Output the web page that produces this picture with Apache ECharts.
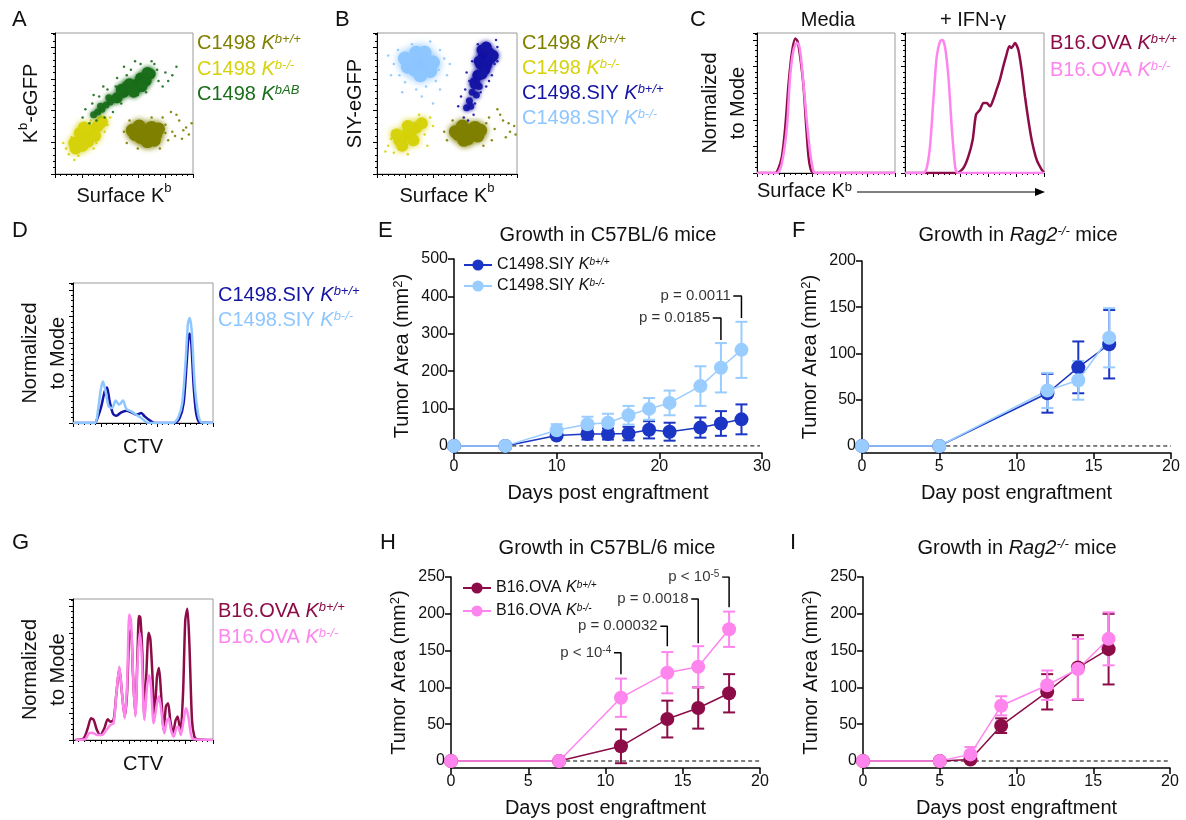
<!DOCTYPE html>
<html>
<head>
<meta charset="utf-8">
<title>Figura</title>
<script src="https://cdn.jsdelivr.net/npm/echarts@6/dist/echarts.min.js"></script>
<style>
  html, body { margin: 0; padding: 0; background: #fff; }
  #grafico { width: 1186px; height: 820px; }
</style>
</head>
<body>
<div id="grafico"></div>
<script>
// ---------- Datos ----------

// A: citometría C1498 (unidades relativas 0-100)
var aOlivaNucleo = [[58,28],[63,31],[68,29],[73,28],[65,25],[70,33],[61,34],[75,32],[67,23],[56,31],[62,26],[72,24]];
var aOlivaDisperso = [[50,30],[80,35],[85,30],[90,38],[95,33],[82,24],[88,42],[78,40],[97,28],[52,22],[92,25],[99,36],[84,44],[76,18],[54,38],[93,31],[87,27],[80,29],[70,40],[60,18]];
var aAmarilloNucleo = [[14,22],[19,24],[23,28],[27,31],[31,34],[18,29],[24,23],[29,27],[15,18],[34,37],[21,33],[20,20]];
var aAmarilloDisperso = [[8,18],[10,14],[12,26],[30,22],[36,30],[26,38],[11,20],[33,40],[17,13],[38,35],[6,22],[14,10],[28,18],[40,40]];
var aVerdeNucleo = [[45,54],[50,58],[55,61],[60,64],[65,68],[69,71],[52,62],[62,68],[58,60],[48,60],[54,64],[66,66],[63,62],[67,72],[57,58]];
var aVerdeMedio = [[28,42],[31,44],[34,46],[37,49],[40,51],[43,53],[47,56],[33,48],[39,54]];
var aVerdeDisperso = [[20,40],[27,50],[32,55],[38,60],[45,68],[55,74],[62,78],[72,78],[75,66],[78,62],[42,44],[48,50],[80,72],[66,58],[25,36],[58,80],[35,62],[85,70],[22,46],[30,38],[44,62],[52,70],[70,80],[74,74],[82,66],[60,56],[36,40],[50,76],[28,56],[88,76]];

// B: citometría C1498.SIY
var bCelesteNucleo = [[24,80],[30,82],[36,80],[27,74],[33,76],[38,73],[22,76],[31,70],[40,79],[28,86],[34,86],[20,82]];
var bCelesteDisperso = [[12,78],[15,88],[45,88],[50,70],[20,65],[35,62],[42,66],[10,70],[48,82],[25,92],[38,94],[32,55],[45,60],[18,58],[40,50],[8,84],[52,78],[28,60],[44,74],[16,70]];
var bAzulNucleo = [[76,84],[79,80],[74,78],[77,74],[72,70],[80,86],[70,64],[75,88],[73,80],[78,77],[81,82],[75,71],[78,90],[83,84]];
var bAzulMedio = [[68,58],[66,52],[71,56],[64,47],[73,62],[69,66],[67,48]];
var bAzulDisperso = [[62,40],[60,55],[66,66],[68,80],[84,78],[86,90],[82,70],[78,62],[64,72],[85,95],[72,92],[69,42],[58,48],[63,60],[80,66],[86,80],[70,50],[74,58],[65,38]];
var bAmarilloNucleo = [[16,24],[20,27],[24,30],[28,33],[32,36],[22,34],[26,24],[18,20],[14,28]];
var bAmarilloDisperso = [[8,20],[12,15],[34,28],[38,40],[14,30],[30,42],[36,20],[10,25],[6,16],[40,34],[22,14]];
var bOlivaNucleo = [[58,28],[63,31],[68,29],[72,27],[65,25],[61,34],[70,33],[56,30],[62,24],[74,31]];
var bOlivaDisperso = [[48,30],[78,36],[84,32],[90,38],[95,30],[82,24],[88,42],[98,34],[50,24],[92,26],[76,20],[86,46],[80,40],[94,36],[54,38],[99,28]];

// C: histogramas Kb de superficie
var cMediaWt = [[0,0],[13.3,0],[15.7,3.6],[18.1,12],[20.5,33],[22.9,64],[25.3,86],[27.7,96],[29.4,94],[31.3,83],[33.7,62],[35.7,33],[37.3,12],[39,2.4],[41,0],[100,0]];
var cMediaKo = [[0,0],[14.5,0],[18,7],[21.7,33],[24,69],[26.5,88],[28.9,93],[30.8,90],[33,71],[36,38],[38.6,14],[41,1],[43,0],[100,0]];
var cIfnWt = [[0,0],[37.2,0],[42,3.6],[45.6,11.9],[48.7,23.8],[51.1,41.7],[54,45.2],[56.4,50],[58.8,50],[61.2,47.6],[63.5,52.4],[65.9,59.5],[68.3,66.7],[70.7,76.2],[72.7,83.3],[75.1,90.5],[76.7,89.3],[79.1,92.9],[81.5,88.1],[83.9,73.8],[86.3,54.8],[88.7,38.1],[91.1,23.8],[94.7,9.5],[98.3,2.4],[100,0.5]];
var cIfnKo = [[0,0],[13.2,0],[15.6,3.6],[18,19],[20.4,52],[22.8,83],[25.2,94],[26.9,95],[28.8,90],[31.2,69],[33.6,33],[36,5],[37.2,0.5],[39,0],[100,0]];

// D: dilución de CTV, C1498.SIY
var dWt = [[0,0],[15.5,0],[17.9,4.7],[20.2,11.8],[22.6,22.5],[24.3,25.4],[26.2,15.4],[28.6,6.6],[31,5.2],[34.5,7.6],[38.1,8.8],[41.7,7.6],[45.2,5.9],[48.8,7.1],[51.2,4.7],[54.8,1.9],[58.3,0],[72.6,0],[76.2,3.6],[79,14],[81,40],[82.4,61],[83.3,64],[84.5,57],[86.2,26],[88,7],[90.5,0.5],[100,0]];
var dKo = [[0,0],[15.5,0],[17.9,9.5],[19.8,23.7],[21.4,29.6],[23.3,22.5],[25.5,11.8],[27.9,10.7],[30.5,16.1],[32.9,13],[35.7,16.1],[38.1,10],[41.7,8.3],[45.2,5.9],[48.8,3.6],[52.4,0.5],[56,0],[71.4,0],[75,3.6],[78,14],[80.5,45],[82.1,71],[83.3,75],[84.8,66],[86.9,28],[89.3,7],[91.7,0.5],[100,0]];

// G: dilución de CTV, B16.OVA
var gWt = [[1.7,0],[7.6,1.2],[10.5,8.3],[12.9,15.4],[14.8,14.2],[17.1,7.1],[19.5,3.6],[22.4,8.3],[24.8,14.7],[26.7,13],[29,14.2],[31,33],[33.1,51],[35,33],[36.9,16.6],[38.6,33],[40.2,76],[41.4,78],[42.9,45],[44.5,18],[46.2,65],[47.1,88],[48.1,87],[49.5,62],[51,16.6],[52.4,47],[54,76],[55.2,72],[56.7,47],[58.1,15.4],[60,45],[61.4,51],[62.9,33],[64.8,7],[66.4,24],[67.9,26],[69.5,14],[71.4,4.7],[73.3,14],[74.8,16.6],[76.7,4.7],[78.6,33],[80.2,85],[81.7,93],[83.1,69],[85,14],[86.7,2.4],[88.6,0.5],[100,0]];
var gKo = [[1.7,0],[8.8,0.5],[11.2,4.7],[13.6,5.2],[17.1,3.6],[20.7,3.6],[23.8,7.1],[26.7,10.7],[29,11.8],[31,33],[33.1,52],[35,33],[36.9,15.4],[38.6,38],[40.2,89],[41.4,85],[42.9,47],[44.5,16.6],[46.2,57],[47.6,76],[49,62],[51,14.2],[52.9,38],[54.3,46],[55.7,38],[57.6,11.8],[60,26],[61.4,31],[63.3,19],[65.2,4.7],[67.1,14],[68.3,15.4],[70,7],[71.9,2.4],[73.8,8.3],[75.2,9.5],[77.1,3.6],[79,14],[80.7,22.5],[82.4,16.6],[84.3,3.6],[86.2,0.5],[100,0]];

// E: crecimiento C1498.SIY en C57BL/6 (mm2, media y error)
var diasE = [0, 5, 10, 13, 15, 17, 19, 21, 24, 26, 28];
var mediaE_wt = [0, 0, 28, 32, 32, 33, 43, 38, 49, 60, 71];
var errE_wt = [0, 0, 5, 15, 15, 18, 23, 24, 27, 33, 40];
var mediaE_ko = [0, 0, 42, 58, 62, 82, 99, 115, 160, 209, 257];
var errE_ko = [0, 0, 16, 20, 24, 25, 29, 33, 53, 66, 75];
var pTextosE = ['p = 0.0011', 'p = 0.0185'];
var pDiasE = [28, 26];
var pAltosE = [401, 342];
var pBasesE = [342, 283];
var ticksYE = [0, 100, 200, 300, 400, 500];

// F: crecimiento en Rag2-/-
var diasF = [0, 5, 12, 14, 16];
var mediaF_wt = [0, 0, 57, 85, 110];
var errF_wt = [0, 0, 21, 28, 37];
var mediaF_ko = [0, 0, 60, 71, 117];
var errF_ko = [0, 0, 19, 21, 32];
var ticksYF = [0, 50, 100, 150, 200];

// H: crecimiento B16.OVA en C57BL/6
var diasH = [0, 7, 11, 14, 16, 18];
var mediaH_wt = [0, 0, 20, 57, 72, 92];
var errH_wt = [0, 0, 23, 25, 28, 26];
var mediaH_ko = [0, 0, 86, 120, 128, 179];
var errH_ko = [0, 0, 26, 28, 28, 24];
var pTextosH = ['p < 10{s|-4}', 'p = 0.00032', 'p = 0.0018', 'p < 10{s|-5}'];
var pDiasH = [11, 14, 16, 18];
var pAltosH = [147, 183, 220, 250];
var pBasesH = [118, 156, 160, 209];
var ticksYH = [0, 50, 100, 150, 200, 250];

// I: crecimiento B16.OVA en Rag2-/-
var diasI = [0, 5, 7, 9, 12, 14, 16];
var mediaI_wt = [0, 0, 2, 48, 94, 127, 152];
var errI_wt = [0, 0, 3, 10, 24, 44, 48];
var mediaI_ko = [0, 0, 9, 75, 103, 125, 166];
var errI_ko = [0, 0, 10, 13, 20, 41, 36];

// ---------- Estilo ----------
var FUENTE = "'Liberation Sans', Arial, Helvetica, sans-serif";
var NEGRO = '#111';
var OLIVA = '#808000', AMARILLO = '#d6d20c', VERDE = '#1b6e1b';
var AZUL_OSC = '#1414a5', AZUL_CLARO = '#8ec6ff', AZUL_MARCA = '#1b35c4', CELESTE = '#99ccff';
var GRANATE = '#8c0c48', ROSA = '#ff85ee';

function rico(tam) {
    var sup = Math.round(tam * 0.65);
    return {
        n: { fontSize: tam, fontFamily: FUENTE },
        k: { fontSize: tam, fontFamily: FUENTE, fontStyle: 'italic' },
        s: { fontSize: sup, fontFamily: FUENTE, verticalAlign: 'top' },
        si: { fontSize: sup, fontFamily: FUENTE, fontStyle: 'italic', verticalAlign: 'top' }
    };
}

// Texto suelto (letras de panel, títulos, leyendas de citometría)
function texto(x, y, contenido, color, tam, alinear, vertical) {
    return {
        type: 'text', x: x, y: y, silent: true,
        style: {
            text: contenido, fill: color || NEGRO, fontSize: tam || 20, fontFamily: FUENTE,
            align: alinear || 'left', verticalAlign: vertical || 'middle', rich: rico(tam || 20)
        }
    };
}

// ---------- Ejes ----------
function ejeFlujo(intervalo, extra) {
    return Object.assign({
        type: 'value', min: 0, max: 100, interval: intervalo,
        axisLine: { show: true, onZero: false, lineStyle: { color: '#000', width: 1 } },
        axisTick: { show: true, length: 4, lineStyle: { color: '#000', width: 1 } },
        minorTick: { show: true, length: 2, splitNumber: 5, lineStyle: { color: '#000' } },
        axisLabel: { show: false },
        splitLine: { show: false },
        nameTextStyle: { fontSize: 20, fontFamily: FUENTE, color: NEGRO, lineHeight: 28, rich: rico(20) }
    }, extra || {});
}

function ejeX(indice, max, intervalo, nombre) {
    return {
        type: 'value', gridIndex: indice, min: 0, max: max, interval: intervalo,
        name: nombre, nameLocation: 'middle', nameGap: 30,
        nameTextStyle: { fontSize: 20, fontFamily: FUENTE, color: NEGRO },
        axisLine: { show: true, onZero: false, lineStyle: { color: '#000', width: 1.5 } },
        axisTick: { show: true, length: 6, lineStyle: { color: '#000', width: 1.5 } },
        axisLabel: { fontSize: 16, fontFamily: FUENTE, color: NEGRO, margin: 6 },
        splitLine: { show: false }
    };
}

function ejeY(indice, min, max, ticks) {
    return {
        type: 'value', gridIndex: indice, min: min, max: max,
        name: 'Tumor Area (mm{s|2})', nameLocation: 'middle', nameGap: 42, nameRotate: 90,
        nameTextStyle: { fontSize: 20, fontFamily: FUENTE, color: NEGRO, rich: rico(20) },
        axisLine: { show: true, onZero: false, lineStyle: { color: '#000', width: 1.5 } },
        axisTick: { show: true, length: 6, customValues: ticks, lineStyle: { color: '#000', width: 1.5 } },
        axisLabel: { fontSize: 16, fontFamily: FUENTE, color: NEGRO, margin: 6, customValues: ticks },
        splitLine: { show: false }
    };
}

// ---------- Series ----------
function nube(eje, puntos, color, tam, opac, difuso) {
    return {
        type: 'scatter', xAxisIndex: eje, yAxisIndex: eje, data: puntos, symbolSize: tam, silent: true,
        itemStyle: { color: color, opacity: opac, shadowBlur: difuso || 0, shadowColor: color }
    };
}

function histo(eje, puntos, color, ancho) {
    return {
        type: 'line', xAxisIndex: eje, yAxisIndex: eje, data: puntos, symbol: 'none',
        smooth: 0.25, lineStyle: { color: color, width: ancho }, silent: true
    };
}

function crecimiento(nombre, eje, dias, medias, color) {
    return {
        name: nombre, type: 'line', xAxisIndex: eje, yAxisIndex: eje,
        data: dias.map(function (d, i) { return [d, medias[i]]; }),
        symbol: 'circle', symbolSize: 14, itemStyle: { color: color },
        lineStyle: { color: color, width: 1.5 }, z: 4
    };
}

function barrasError(params, api) {
    var arriba = api.coord([api.value(0), api.value(2)]);
    var abajo = api.coord([api.value(0), api.value(1)]);
    var w = 6;
    var estilo = { stroke: api.visual('color'), lineWidth: 2 };
    return {
        type: 'group', children: [
            { type: 'line', shape: { x1: arriba[0], y1: arriba[1], x2: abajo[0], y2: abajo[1] }, style: estilo },
            { type: 'line', shape: { x1: arriba[0] - w, y1: arriba[1], x2: arriba[0] + w, y2: arriba[1] }, style: estilo },
            { type: 'line', shape: { x1: abajo[0] - w, y1: abajo[1], x2: abajo[0] + w, y2: abajo[1] }, style: estilo }
        ]
    };
}

function errores(eje, dias, medias, err, color) {
    var datos = [];
    dias.forEach(function (d, i) {
        if (err[i] > 0) datos.push([d, medias[i] - err[i], medias[i] + err[i]]);
    });
    return {
        type: 'custom', xAxisIndex: eje, yAxisIndex: eje, data: datos, renderItem: barrasError,
        itemStyle: { color: color }, encode: { x: 0, y: [1, 2] }, z: 3, silent: true
    };
}

function lineaCero(eje, desde, hasta) {
    return {
        type: 'line', xAxisIndex: eje, yAxisIndex: eje, data: [[desde, 0], [hasta, 0]], symbol: 'none',
        lineStyle: { color: '#000', width: 1, type: [4, 3] }, z: 1, silent: true
    };
}

function corchetes(eje, textos, dias, altos, bases, largo) {
    var res = [];
    textos.forEach(function (t, i) {
        res.push({
            type: 'line', xAxisIndex: eje, yAxisIndex: eje, symbol: 'none', silent: true,
            data: [[dias[i] - largo, altos[i]], [dias[i], altos[i]], [dias[i], bases[i]]],
            lineStyle: { color: '#000', width: 1.5 }, z: 5
        });
        res.push({
            type: 'scatter', xAxisIndex: eje, yAxisIndex: eje, symbolSize: 0, silent: true,
            data: [[dias[i] - largo - 0.05, altos[i]]], z: 5,
            label: {
                show: true, position: 'left', distance: 2, formatter: t,
                fontSize: 15, fontFamily: FUENTE, color: '#000', rich: rico(15)
            }
        });
    });
    return res;
}

var etiquetasLeyenda = {
    E_wt: 'C1498.SIY {k|K}{si|b+/+}', E_ko: 'C1498.SIY {k|K}{si|b-/-}',
    H_wt: 'B16.OVA {k|K}{si|b+/+}', H_ko: 'B16.OVA {k|K}{si|b-/-}'
};

function leyenda(izq, arriba, nombres, separacion) {
    return {
        left: izq, top: arriba, orient: 'vertical', selectedMode: false,
        itemWidth: 28, itemHeight: 14, itemGap: separacion, data: nombres,
        formatter: function (n) { return etiquetasLeyenda[n]; },
        textStyle: { fontSize: 16, fontFamily: FUENTE, color: NEGRO, rich: rico(16) }
    };
}

// ---------- Opciones ----------
var marco = { show: true, borderColor: '#9a9a9a', borderWidth: 1 };
var opciones = {
    animation: false,
    backgroundColor: '#fff',
    textStyle: { fontFamily: FUENTE },
    grid: [
        Object.assign({ left: 55, top: 33, width: 138, height: 141 }, marco),   // A
        Object.assign({ left: 377, top: 33, width: 140, height: 141 }, marco),  // B
        Object.assign({ left: 757, top: 33, width: 138, height: 140 }, marco),  // C media
        Object.assign({ left: 905, top: 33, width: 139, height: 140 }, marco),  // C IFN
        Object.assign({ left: 73, top: 283, width: 140, height: 140 }, marco),  // D
        Object.assign({ left: 73, top: 599, width: 140, height: 141 }, marco),  // G
        { left: 454, top: 259, width: 308, height: 194 },  // E
        { left: 862, top: 261, width: 309, height: 192 },  // F
        { left: 451, top: 577, width: 309, height: 191 },  // H
        { left: 863, top: 577, width: 307, height: 191 }   // I
    ],
    xAxis: [
        ejeFlujo(20, { gridIndex: 0, name: 'Surface K{s|b}', nameLocation: 'middle', nameGap: 8 }),
        ejeFlujo(20, { gridIndex: 1, name: 'Surface K{s|b}', nameLocation: 'middle', nameGap: 8 }),
        ejeFlujo(20, { gridIndex: 2 }),
        ejeFlujo(20, { gridIndex: 3 }),
        ejeFlujo(20, { gridIndex: 4, name: 'CTV', nameLocation: 'middle', nameGap: 10 }),
        ejeFlujo(20, { gridIndex: 5, name: 'CTV', nameLocation: 'middle', nameGap: 10 }),
        ejeX(6, 30, 10, 'Days post engraftment'),
        ejeX(7, 20, 5, 'Day post engraftment'),
        ejeX(8, 20, 5, 'Days post engraftment'),
        ejeX(9, 20, 5, 'Days post engraftment')
    ],
    yAxis: [
        ejeFlujo(22.5, { gridIndex: 0, name: 'K{s|b}-eGFP', nameLocation: 'middle', nameGap: 10, nameRotate: 90 }),
        ejeFlujo(22.5, { gridIndex: 1, name: 'SIY-eGFP', nameLocation: 'middle', nameGap: 8, nameRotate: 90 }),
        ejeFlujo(19, { gridIndex: 2, name: 'Normalized\nto Mode', nameLocation: 'middle', nameGap: 5, nameRotate: 90 }),
        ejeFlujo(19, { gridIndex: 3 }),
        ejeFlujo(19, { gridIndex: 4, name: 'Normalized\nto Mode', nameLocation: 'middle', nameGap: 1, nameRotate: 90 }),
        ejeFlujo(19, { gridIndex: 5, name: 'Normalized\nto Mode', nameLocation: 'middle', nameGap: 1, nameRotate: 90 }),
        ejeY(6, -19, 500, ticksYE),
        ejeY(7, -7.6, 200, ticksYF),
        ejeY(8, -9.5, 250, ticksYH),
        ejeY(9, -9.5, 250, ticksYH)
    ],
    legend: [
        leyenda(458, 252, ['E_wt', 'E_ko'], 5),
        leyenda(457, 575, ['H_wt', 'H_ko'], 7)
    ],
    series: [].concat(
        // A
        nube(0, aOlivaDisperso, OLIVA, 2.5, 0.9), nube(0, aOlivaNucleo, OLIVA, 13, 1, 6),
        nube(0, aAmarilloDisperso, AMARILLO, 2.5, 0.9), nube(0, aAmarilloNucleo, AMARILLO, 12, 1, 6),
        nube(0, aVerdeDisperso, VERDE, 2.5, 0.9), nube(0, aVerdeMedio, VERDE, 7, 0.9, 4), nube(0, aVerdeNucleo, VERDE, 11, 1, 5),
        // B
        nube(1, bOlivaDisperso, OLIVA, 2.5, 0.9), nube(1, bOlivaNucleo, OLIVA, 13, 1, 6),
        nube(1, bAmarilloDisperso, AMARILLO, 2.5, 0.9), nube(1, bAmarilloNucleo, AMARILLO, 12, 1, 6),
        nube(1, bCelesteDisperso, AZUL_CLARO, 2.5, 0.9), nube(1, bCelesteNucleo, AZUL_CLARO, 14, 1, 8),
        nube(1, bAzulDisperso, AZUL_OSC, 2.5, 0.9), nube(1, bAzulMedio, AZUL_OSC, 7, 0.9, 4), nube(1, bAzulNucleo, AZUL_OSC, 11, 1, 5),
        // C
        histo(2, cMediaWt, GRANATE, 2.5), histo(2, cMediaKo, ROSA, 2.5),
        histo(3, cIfnWt, GRANATE, 2.5), histo(3, cIfnKo, ROSA, 2.5),
        // D, G
        histo(4, dWt, AZUL_OSC, 2.5), histo(4, dKo, AZUL_CLARO, 2.5),
        histo(5, gWt, GRANATE, 2.5), histo(5, gKo, ROSA, 2.5),
        // E
        lineaCero(6, 5, 29.8),
        errores(6, diasE, mediaE_wt, errE_wt, AZUL_MARCA), crecimiento('E_wt', 6, diasE, mediaE_wt, AZUL_MARCA),
        errores(6, diasE, mediaE_ko, errE_ko, CELESTE), crecimiento('E_ko', 6, diasE, mediaE_ko, CELESTE),
        corchetes(6, pTextosE, pDiasE, pAltosE, pBasesE, 0.8),
        // F
        lineaCero(7, 5, 20),
        errores(7, diasF, mediaF_wt, errF_wt, AZUL_MARCA), crecimiento('F_wt', 7, diasF, mediaF_wt, AZUL_MARCA),
        errores(7, diasF, mediaF_ko, errF_ko, CELESTE), crecimiento('F_ko', 7, diasF, mediaF_ko, CELESTE),
        // H
        lineaCero(8, 7, 20),
        errores(8, diasH, mediaH_wt, errH_wt, GRANATE), crecimiento('H_wt', 8, diasH, mediaH_wt, GRANATE),
        errores(8, diasH, mediaH_ko, errH_ko, ROSA), crecimiento('H_ko', 8, diasH, mediaH_ko, ROSA),
        corchetes(8, pTextosH, pDiasH, pAltosH, pBasesH, 0.45),
        // I
        lineaCero(9, 5, 20),
        errores(9, diasI, mediaI_wt, errI_wt, GRANATE), crecimiento('I_wt', 9, diasI, mediaI_wt, GRANATE),
        errores(9, diasI, mediaI_ko, errI_ko, ROSA), crecimiento('I_ko', 9, diasI, mediaI_ko, ROSA)
    ),
    graphic: [
        // letras de panel
        texto(12, 9, 'A', NEGRO, 22, 'left', 'top'),
        texto(335, 9, 'B', NEGRO, 22, 'left', 'top'),
        texto(690, 9, 'C', NEGRO, 22, 'left', 'top'),
        texto(12, 220, 'D', NEGRO, 22, 'left', 'top'),
        texto(378, 220, 'E', NEGRO, 22, 'left', 'top'),
        texto(792, 220, 'F', NEGRO, 22, 'left', 'top'),
        texto(12, 532, 'G', NEGRO, 22, 'left', 'top'),
        texto(380, 532, 'H', NEGRO, 22, 'left', 'top'),
        texto(790, 532, 'I', NEGRO, 22, 'left', 'top'),
        // títulos
        texto(828, 20, 'Media', NEGRO, 20, 'center'),
        texto(973, 20, '+ IFN-γ', NEGRO, 20, 'center'),
        texto(608, 235, 'Growth in C57BL/6 mice', NEGRO, 20, 'center'),
        texto(1018, 235, 'Growth in {k|Rag2}{si|-/-} mice', NEGRO, 20, 'center'),
        texto(607, 548, 'Growth in C57BL/6 mice', NEGRO, 20, 'center'),
        texto(1017, 548, 'Growth in {k|Rag2}{si|-/-} mice', NEGRO, 20, 'center'),
        // leyendas de citometría
        texto(197, 43, 'C1498 {k|K}{si|b+/+}', OLIVA),
        texto(197, 69, 'C1498 {k|K}{si|b-/-}', AMARILLO),
        texto(197, 94, 'C1498 {k|K}{si|bAB}', VERDE),
        texto(522, 43, 'C1498 {k|K}{si|b+/+}', OLIVA),
        texto(522, 68, 'C1498 {k|K}{si|b-/-}', AMARILLO),
        texto(522, 93, 'C1498.SIY {k|K}{si|b+/+}', AZUL_OSC),
        texto(522, 118, 'C1498.SIY {k|K}{si|b-/-}', AZUL_CLARO),
        texto(1050, 43, 'B16.OVA {k|K}{si|b+/+}', GRANATE),
        texto(1050, 70, 'B16.OVA {k|K}{si|b-/-}', ROSA),
        texto(218, 295, 'C1498.SIY {k|K}{si|b+/+}', AZUL_OSC),
        texto(218, 320, 'C1498.SIY {k|K}{si|b-/-}', AZUL_CLARO),
        texto(218, 611, 'B16.OVA {k|K}{si|b+/+}', GRANATE),
        texto(218, 637, 'B16.OVA {k|K}{si|b-/-}', ROSA),
        // eje con flecha del panel C
        texto(757, 191, 'Surface K{s|b}', NEGRO, 20),
        { type: 'line', silent: true, shape: { x1: 857, y1: 192, x2: 1036, y2: 192 }, style: { stroke: '#000', lineWidth: 1 } },
        { type: 'polygon', silent: true, shape: { points: [[1045, 192], [1035, 188], [1035, 196]] }, style: { fill: '#000' } }
    ]
};

var grafico = echarts.init(document.getElementById('grafico'), null, { renderer: 'canvas' });
grafico.setOption(opciones);
</script>
</body>
</html>
